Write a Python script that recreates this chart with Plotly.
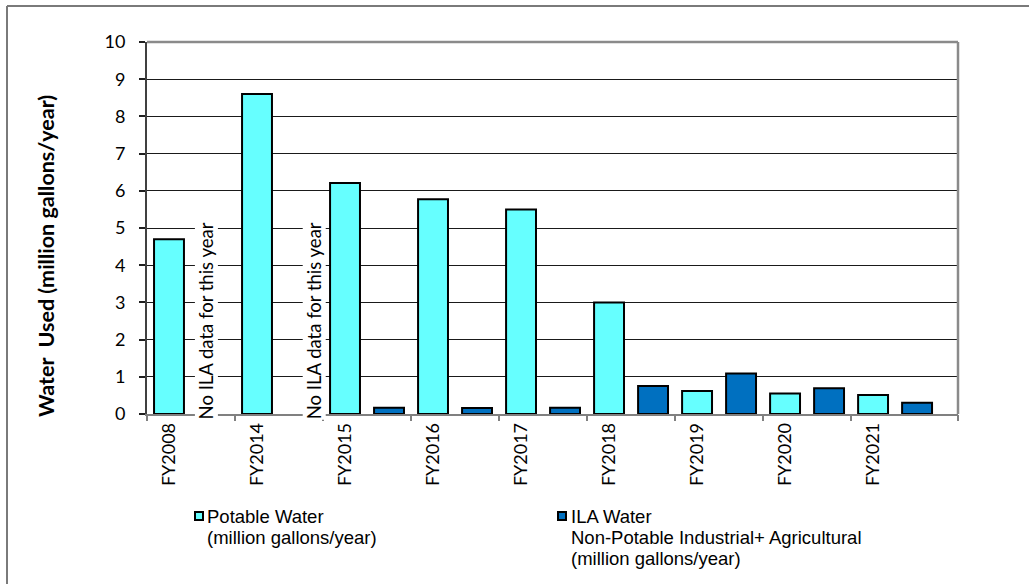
import plotly.graph_objects as go

# Fiscal years and water use (million gallons/year)
years = ["FY2008", "FY2014", "FY2015", "FY2016", "FY2017",
         "FY2018", "FY2019", "FY2020", "FY2021"]
potable = [4.70, 8.60, 6.21, 5.77, 5.50, 3.00, 0.62, 0.55, 0.51]
ila = [None, None, 0.17, 0.16, 0.17, 0.75, 1.09, 0.69, 0.30]
no_data_note = "No ILA data for this year"
y_title = "Water\u00a0 Used (million gallons/year)"
legend_potable = ["Potable Water", "(million gallons/year)"]
legend_ila = ["ILA Water", "Non-Potable Industrial+ Agricultural", "(million gallons/year)"]

CYAN = "#66FFFF"
BLUE = "#0070C0"

W, H = 1029, 584
ML, MR, MT, MB = 147, 71, 42, 170
PW, PH = W - ML - MR, H - MT - MB

# each fiscal year takes two slots: potable then ILA
pos_potable = [2 * i for i in range(len(years))]
pos_ila = [2 * i + 1 for i in range(len(years))]
x_lo, x_hi = -0.5, 17.93
pair_edges = [2 * i - 0.5 for i in range(len(years))] + [x_hi - 0.001]


def px_x(px):
    return (px - ML) / PW


def px_y(py):
    return (H - MB - py) / PH


fig = go.Figure()
fig.add_trace(go.Bar(
    x=pos_potable, y=potable, width=0.68, name="Potable Water",
    marker=dict(color=CYAN, line=dict(color="black", width=2)),
    showlegend=False,
))
fig.add_trace(go.Bar(
    x=pos_ila, y=ila, width=0.68, name="ILA Water",
    marker=dict(color=BLUE, line=dict(color="black", width=2)),
    showlegend=False,
))
# carrier for the pair-boundary tick marks
fig.add_trace(go.Scatter(x=[], y=[], xaxis="x2", showlegend=False))

shapes = [
    # plot frame top and right
    dict(type="line", xref="paper", yref="paper", x0=0, x1=1, y0=1, y1=1,
         line=dict(color="#8a8a8a", width=2.5)),
    dict(type="line", xref="paper", yref="paper", x0=1, x1=1, y0=0, y1=1,
         line=dict(color="#8a8a8a", width=2.5)),
    # chart border (top and left edges)
    dict(type="line", xref="paper", yref="paper", x0=px_x(7), x1=px_x(1040),
         y0=px_y(6), y1=px_y(6), line=dict(color="#7a7a7a", width=2)),
    dict(type="line", xref="paper", yref="paper", x0=px_x(7), x1=px_x(7),
         y0=px_y(6), y1=px_y(600), line=dict(color="#7a7a7a", width=2)),
    # legend swatches
    dict(type="rect", xref="paper", yref="paper", x0=px_x(195), x1=px_x(203),
         y0=px_y(520), y1=px_y(512), fillcolor=CYAN,
         line=dict(color="black", width=2)),
    dict(type="rect", xref="paper", yref="paper", x0=px_x(558), x1=px_x(566),
         y0=px_y(520), y1=px_y(512), fillcolor=BLUE,
         line=dict(color="black", width=2)),
]

annotations = []
for xv in (0.85, 3.3):
    annotations.append(dict(
        x=xv, y=2.5, xref="x", yref="y", text=no_data_note, textangle=-90,
        showarrow=False, xanchor="center", yanchor="middle",
        font=dict(family="Lato", size=18.5, color="black"),
        bgcolor="white", borderpad=0,
    ))

annotations.append(dict(
    x=px_x(46), y=px_y(256), xref="paper", yref="paper", text=y_title,
    textangle=-90, showarrow=False, xanchor="center", yanchor="middle",
    font=dict(family="Lato", size=21.5, color="black", weight="bold"),
))

legend_font = dict(family="Liberation Sans", size=18.5, color="black")
for i, line in enumerate(legend_potable):
    annotations.append(dict(
        x=px_x(205), y=px_y(516 + 21 * i), xref="paper", yref="paper",
        text=line, showarrow=False, xanchor="left", yanchor="middle",
        font=legend_font,
    ))
for i, line in enumerate(legend_ila):
    annotations.append(dict(
        x=px_x(569), y=px_y(516 + 21 * i), xref="paper", yref="paper",
        text=line, showarrow=False, xanchor="left", yanchor="middle",
        font=legend_font,
    ))

fig.update_layout(
    width=W, height=H,
    margin=dict(l=ML, r=MR, t=MT, b=MB, autoexpand=False),
    paper_bgcolor="white", plot_bgcolor="white",
    font=dict(family="Lato", size=18, color="black"),
    barmode="overlay",
    shapes=shapes,
    annotations=annotations,
    xaxis=dict(
        range=[x_lo, x_hi], tickmode="array", tickvals=pos_potable,
        ticktext=years, tickangle=-90, ticks="", showgrid=False,
        zeroline=False, showline=True, linecolor="#808080", linewidth=1.5,
        tickfont=dict(family="Lato", size=18, color="black"),
    ),
    xaxis2=dict(
        overlaying="x", anchor="y", side="bottom", range=[x_lo, x_hi],
        tickmode="array", tickvals=pair_edges, ticks="outside", ticklen=6,
        tickcolor="#808080", tickwidth=1.5, showticklabels=False,
        showgrid=False, zeroline=False, showline=False,
    ),
    yaxis=dict(
        range=[0, 10], dtick=1, tick0=0, ticks="outside", ticklen=6,
        tickcolor="#202020", tickwidth=1.5, showgrid=True,
        gridcolor="#1a1a1a", gridwidth=1, zeroline=False, showline=True,
        linecolor="#404040", linewidth=2, ticklabelstandoff=10,
        tickfont=dict(family="Lato", size=18, color="black"),
    ),
)

fig.write_html("out.html")
